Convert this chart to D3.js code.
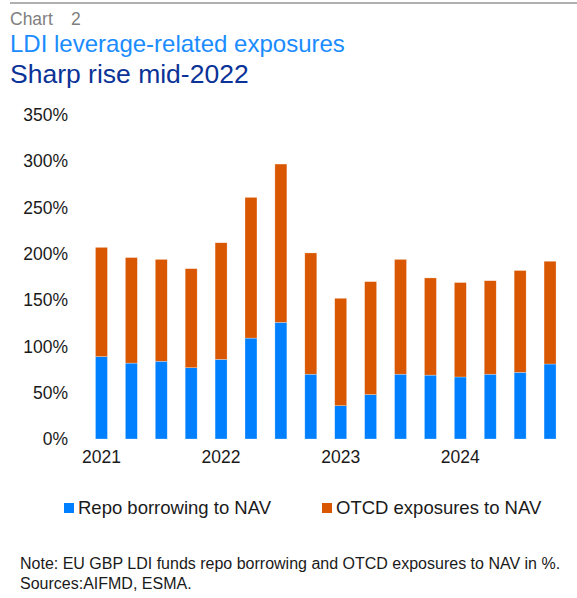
<!DOCTYPE html>
<html>
<head>
<meta charset="utf-8">
<script src="https://cdn.jsdelivr.net/npm/d3@7"></script>
<style>
  html, body { margin: 0; padding: 0; background: #fff; }
  svg { display: block; font-family: Arial, "Liberation Sans", sans-serif; }
</style>
</head>
<body>
<svg id="chart" width="577" height="598"></svg>
<script>
// Quarterly periods, 2021 Q1 to 2024 Q4
const quarters = [
  "2021Q1", "2021Q2", "2021Q3", "2021Q4",
  "2022Q1", "2022Q2", "2022Q3", "2022Q4",
  "2023Q1", "2023Q2", "2023Q3", "2023Q4",
  "2024Q1", "2024Q2", "2024Q3", "2024Q4"
];
// Repo borrowing to NAV (%)
const repo = [89, 82, 84, 77, 86, 109, 126, 70, 36, 48, 70, 69, 67, 70, 72, 81];
// OTCD exposures to NAV (%)
const otcd = [118, 114, 110, 107, 126, 152, 171, 131, 116, 122, 124, 105, 102, 101, 110, 111];
// Year labels shown under the first quarter of each year
const yearTicks = { "2021Q1": "2021", "2022Q1": "2022", "2023Q1": "2023", "2024Q1": "2024" };
const yTicks = [0, 50, 100, 150, 200, 250, 300, 350];
const seriesNames = ["Repo borrowing to NAV", "OTCD exposures to NAV"];
const colors = ["#0080FF", "#D95700"];

const svg = d3.select("#chart");

// Header
svg.append("line").attr("x1", 10).attr("x2", 577).attr("y1", 3).attr("y2", 3)
  .attr("stroke", "#b0b0b0").attr("stroke-width", 2);
svg.append("text").attr("x", 10).attr("y", 25).attr("font-size", 17.5).attr("fill", "#7f7f7f")
  .text("Chart");
svg.append("text").attr("x", 71).attr("y", 25).attr("font-size", 17.5).attr("fill", "#7f7f7f")
  .text("2");
svg.append("text").attr("x", 10).attr("y", 52).attr("font-size", 24).attr("fill", "#1A8CFF")
  .text("LDI leverage-related exposures");
svg.append("text").attr("x", 10).attr("y", 83).attr("font-size", 26.5).attr("fill", "#0B3397")
  .text("Sharp rise mid-2022");

// Scales
const x = d3.scaleBand().domain(quarters).range([86.5, 565]).paddingInner(0.6).paddingOuter(0.3);
const y = d3.scaleLinear().domain([0, 350]).range([439, 115]);

// Stacked data
const rows = quarters.map((q, i) => ({ q, repo: repo[i], otcd: otcd[i] }));
const stack = d3.stack().keys(["repo", "otcd"])(rows);

svg.append("g").selectAll("g").data(stack).join("g")
  .attr("fill", (d, i) => colors[i])
  .selectAll("rect").data(d => d).join("rect")
  .attr("x", d => x(d.data.q))
  .attr("width", x.bandwidth())
  .attr("y", d => y(d[1]))
  .attr("height", d => y(d[0]) - y(d[1]))
  .attr("stroke", "#ffffff").attr("stroke-opacity", 0.45).attr("stroke-width", 0.6);

// Y axis (labels only)
const yAxis = d3.axisLeft(y).tickValues(yTicks).tickFormat(d => d + "%").tickSize(0).tickPadding(0);
const gy = svg.append("g").attr("transform", "translate(68,0)").call(yAxis);
gy.select(".domain").remove();
gy.selectAll("text").attr("font-size", 17.5).attr("fill", "#1a1a1a")
  .attr("font-family", "Arial, 'Liberation Sans', sans-serif");

// X axis (year labels only)
const xAxis = d3.axisBottom(x).tickFormat(d => yearTicks[d] || "").tickSize(0).tickPadding(0);
const gx = svg.append("g").attr("transform", "translate(0,450.5)").call(xAxis);
gx.select(".domain").remove();
gx.selectAll("text").attr("font-size", 17.5).attr("fill", "#1a1a1a").attr("dy", "0.71em")
  .attr("font-family", "Arial, 'Liberation Sans', sans-serif");

// Legend
const legendX = [64, 322];
const legend = svg.append("g").selectAll("g").data(seriesNames).join("g")
  .attr("transform", (d, i) => `translate(${legendX[i]},0)`);
legend.append("rect").attr("x", 0).attr("y", 503).attr("width", 10).attr("height", 10)
  .attr("fill", (d, i) => colors[i]);
legend.append("text").attr("x", 14).attr("y", 514).attr("font-size", 18.5).attr("fill", "#1a1a1a")
  .text(d => d);

// Note
svg.append("text").attr("x", 20).attr("y", 569).attr("font-size", 16).attr("fill", "#1a1a1a")
  .text("Note: EU GBP LDI funds repo borrowing and OTCD exposures to NAV in %.");
svg.append("text").attr("x", 20).attr("y", 589).attr("font-size", 16).attr("fill", "#1a1a1a")
  .text("Sources:AIFMD, ESMA.");
</script>
</body>
</html>
